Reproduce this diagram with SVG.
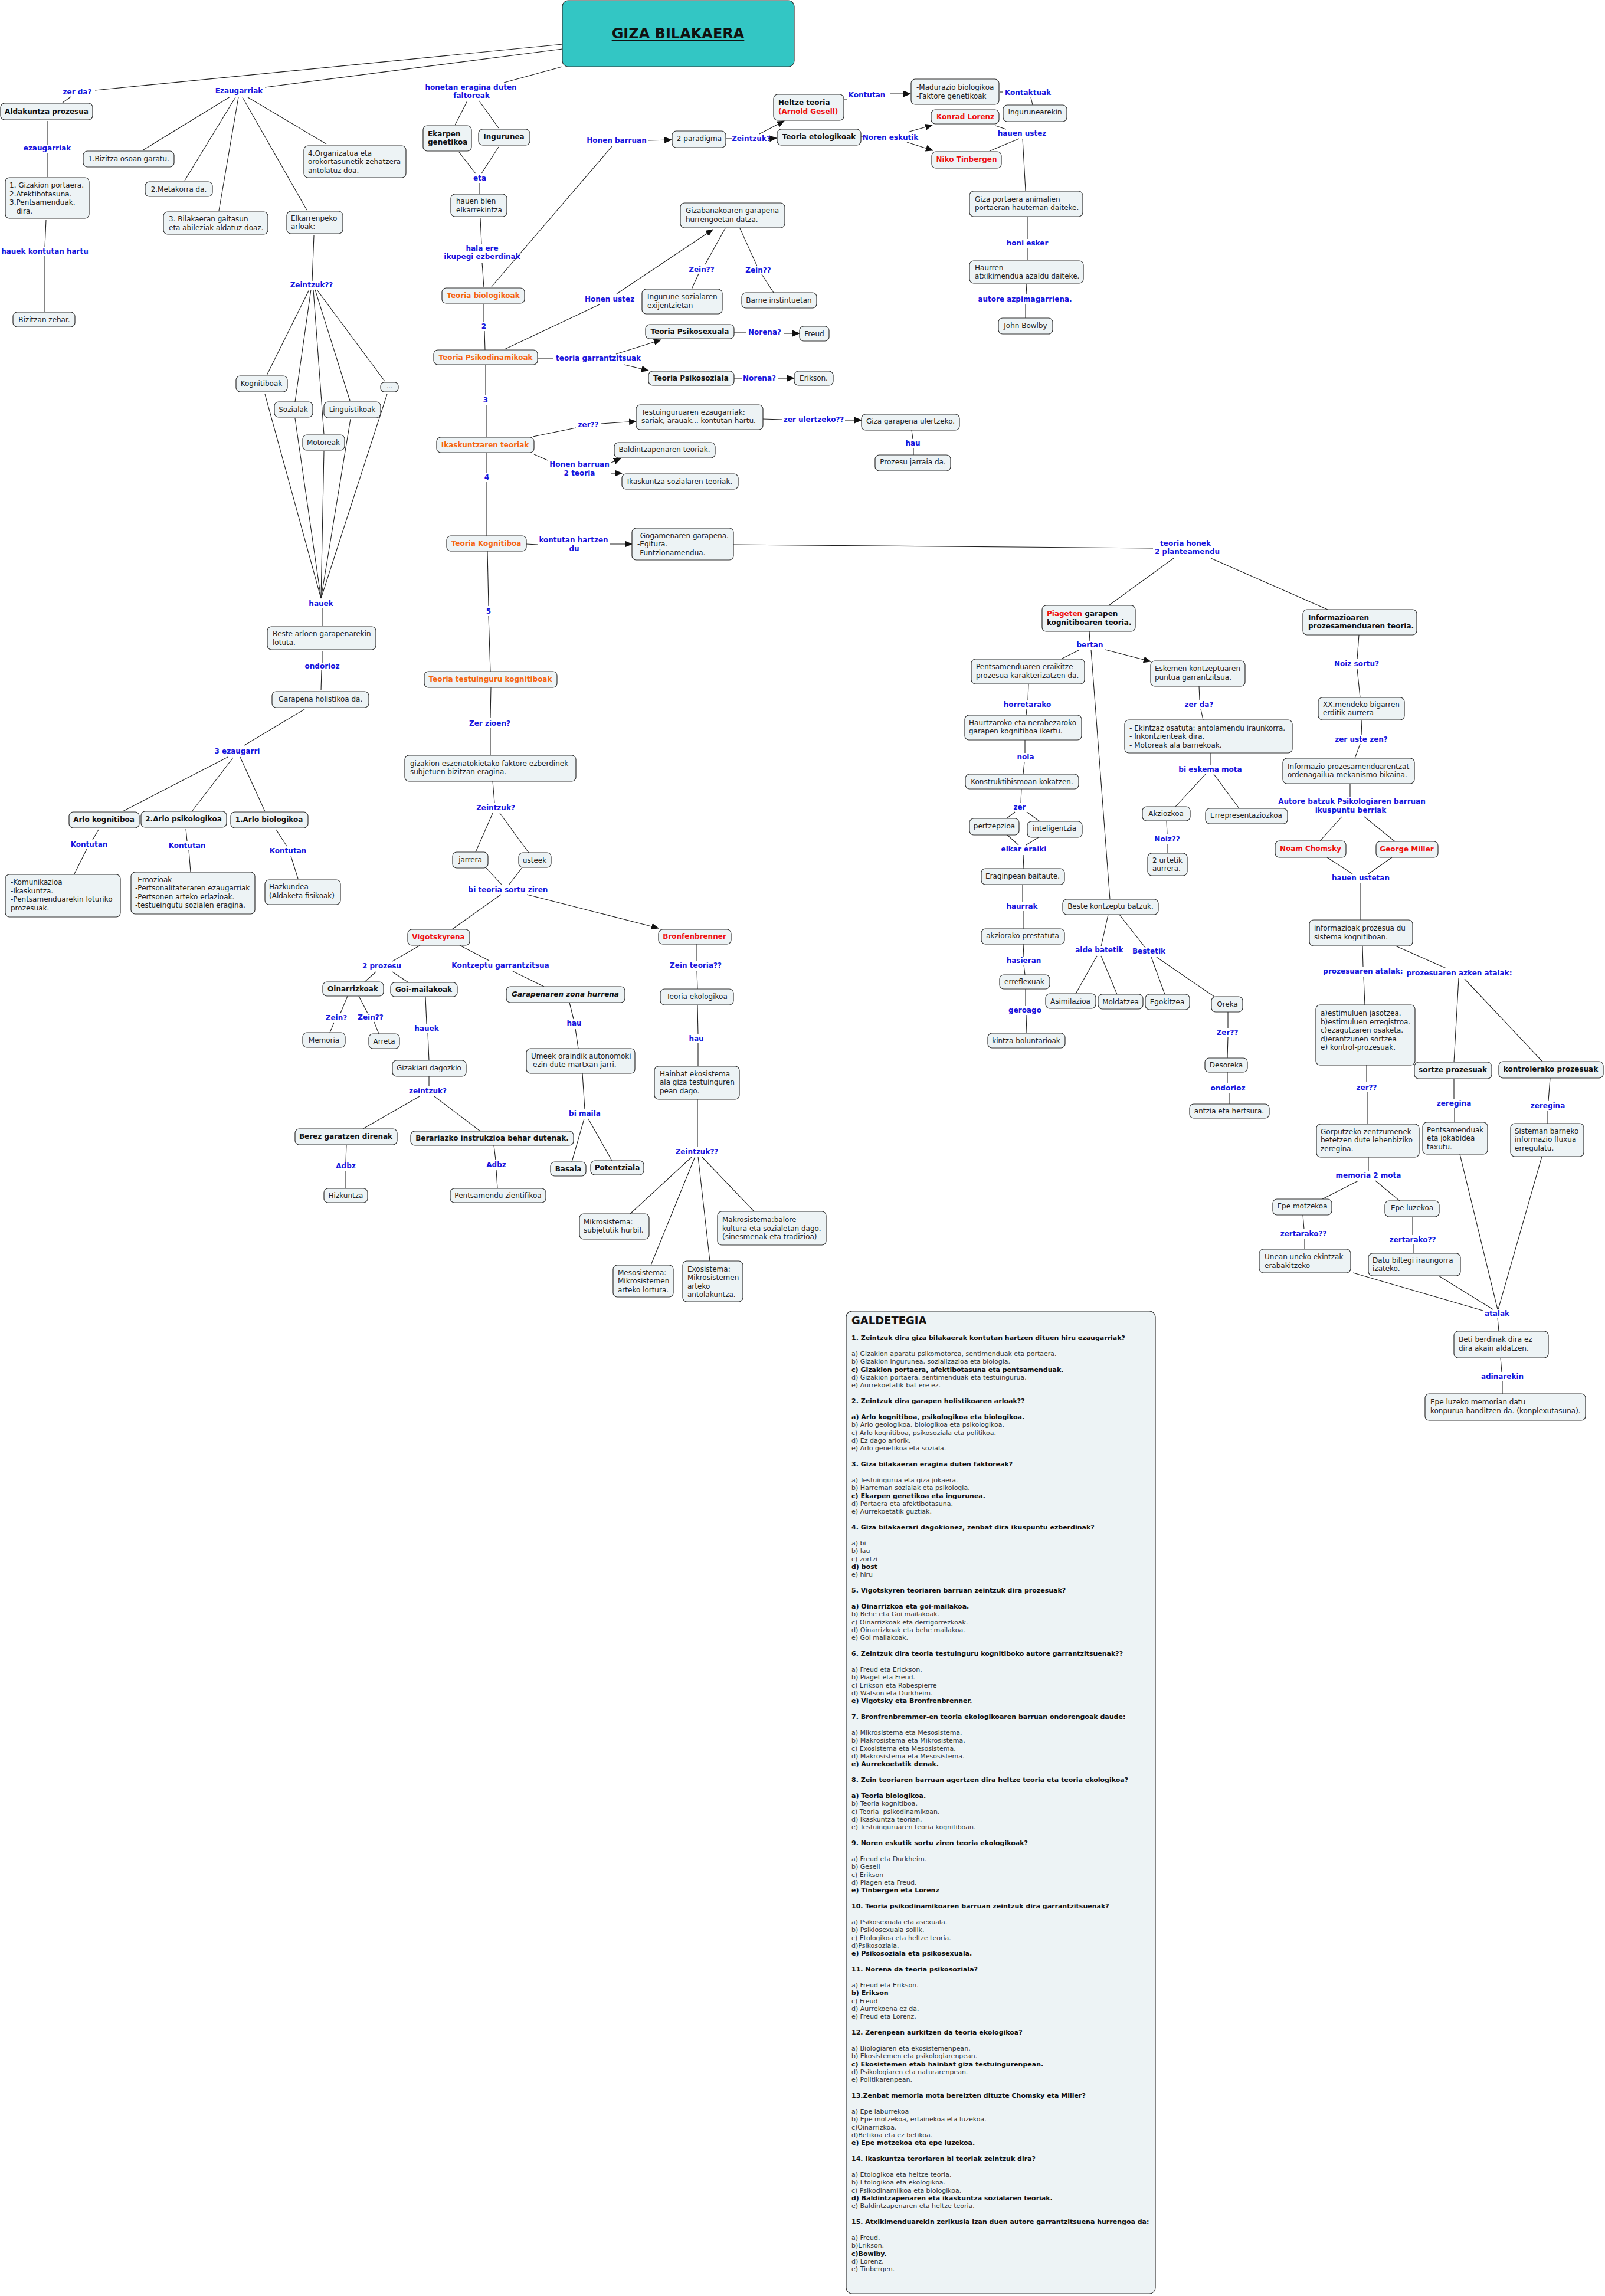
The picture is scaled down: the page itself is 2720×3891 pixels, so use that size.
<svg xmlns="http://www.w3.org/2000/svg" width="2720" height="3891" viewBox="0 0 2720 3891">
<defs>
<marker id="ar" markerUnits="userSpaceOnUse" markerWidth="13" markerHeight="11" refX="12" refY="5.5" orient="auto"><path d="M0,0 L13,5.5 L0,11 z" fill="#111"/></marker>
<style>
rect{fill:#edf3f5;stroke:#333;stroke-width:1.2}
text{font-family:"DejaVu Sans","Liberation Sans",sans-serif;font-size:12px;fill:#222}
.m{text-anchor:middle}
.b{font-weight:bold;fill:#111}
.o{font-weight:bold;fill:#f5650f}
.r{font-weight:bold;fill:#ee1111}
.l{font-weight:bold;fill:#1515dd;text-anchor:middle}
.bi{font-weight:bold;font-style:italic;fill:#111}
#connectors path{stroke:#222;stroke-width:1.1;fill:none}
.q{font-size:11px;fill:#333}
.qb{font-weight:bold;fill:#111}
</style>
</defs>
<rect width="2720" height="3891" style="fill:#fff;stroke:none"/>

<g id="connectors">
<path d="M953,75 L161,153"/><path d="M953,83 L449,148"/><path d="M953,113 L854,140"/>
<path d="M120,164 L106,174"/>
<path d="M80,205 L80,245"/><path d="M80,259 L80,300"/>
<path d="M78,373 L76,419"/><path d="M76,434 L76,528"/>
<path d="M390,164 L243,254"/><path d="M399,165 L313,306"/><path d="M404,165 L371,357"/><path d="M411,165 L520,356"/><path d="M420,165 L553,244"/>
<path d="M532,399 L529,476"/>
<path d="M524,491 L452,636"/><path d="M527,491 L500,681"/><path d="M531,491 L549,736"/><path d="M534,491 L593,679"/><path d="M537,491 L652,646"/>
<path d="M449,668 L544,1014"/><path d="M500,709 L544,1014"/><path d="M549,765 L544,1014"/><path d="M594,710 L544,1014"/><path d="M656,668 L544,1014"/>
<path d="M546,1031 L546,1061"/><path d="M546,1104 L546,1123"/><path d="M545,1136 L544,1170"/>
<path d="M516,1202 L414,1263"/>
<path d="M386,1283 L208,1375"/><path d="M395,1284 L326,1374"/><path d="M407,1283 L449,1375"/>
<path d="M167,1406 L157,1423"/><path d="M147,1439 L126,1481"/>
<path d="M315,1405 L317,1425"/><path d="M320,1441 L323,1478"/>
<path d="M468,1406 L486,1434"/><path d="M493,1451 L505,1489"/>
<path d="M792,171 L771,212"/><path d="M812,171 L845,217"/>
<path d="M778,258 L806,294"/><path d="M845,249 L816,294"/>
<path d="M813,310 L813,328"/>
<path d="M814,370 L816,413"/><path d="M817,445 L820,487"/>
<path d="M833,486 L1038,247"/>
<path d="M1098,238 L1138,237" marker-end="url(#ar)"/>
<path d="M1231,235 L1240,235"/>
<path d="M1303,235 L1316,234" marker-end="url(#ar)"/>
<path d="M1287,227 L1329,205" marker-end="url(#ar)"/>
<path d="M1430,169 L1435,169"/>
<path d="M1508,159 L1543,159" marker-end="url(#ar)"/>
<path d="M1694,156 L1700,156"/><path d="M1747,165 L1750,178"/>
<path d="M1459,232 L1464,232"/>
<path d="M1538,224 L1580,212" marker-end="url(#ar)"/>
<path d="M1537,241 L1581,255" marker-end="url(#ar)"/>
<path d="M1687,213 L1705,219"/><path d="M1677,256 L1727,235"/><path d="M1733,235 L1738,323"/>
<path d="M1741,368 L1741,405"/><path d="M1741,420 L1741,441"/>
<path d="M1740,481 L1739,499"/><path d="M1738,516 L1738,539"/>
<path d="M820,515 L820,545"/><path d="M821,561 L822,593"/>
<path d="M855,592 L1016,516"/>
<path d="M1045,498 L1208,389" marker-end="url(#ar)"/>
<path d="M1229,387 L1195,448"/><path d="M1184,464 L1172,490"/>
<path d="M1254,387 L1283,451"/><path d="M1291,465 L1311,496"/>
<path d="M911,607 L938,607"/>
<path d="M1044,600 L1120,576" marker-end="url(#ar)"/>
<path d="M1058,618 L1099,628" marker-end="url(#ar)"/>
<path d="M1244,563 L1265,563"/><path d="M1328,565 L1355,565" marker-end="url(#ar)"/>
<path d="M1244,641 L1257,641"/><path d="M1318,641 L1346,641" marker-end="url(#ar)"/>
<path d="M823,619 L823,670"/><path d="M824,686 L824,741"/>
<path d="M903,740 L976,725"/>
<path d="M1019,718 L1078,714" marker-end="url(#ar)"/>
<path d="M1293,710 L1325,711"/><path d="M1432,712 L1460,712" marker-end="url(#ar)"/>
<path d="M1545,729 L1547,744"/><path d="M1548,759 L1548,771"/>
<path d="M905,770 L928,780"/>
<path d="M1036,784 L1052,777" marker-end="url(#ar)"/>
<path d="M1036,802 L1054,802" marker-end="url(#ar)"/>
<path d="M824,767 L824,801"/><path d="M825,817 L825,908"/>
<path d="M892,922 L911,923"/><path d="M1034,922 L1071,922" marker-end="url(#ar)"/>
<path d="M1243,923 L1954,929"/>
<path d="M1989,946 L1879,1026"/><path d="M2052,946 L2250,1033"/>
<path d="M1846,1070 L1847,1086"/>
<path d="M1828,1102 L1798,1117"/>
<path d="M1873,1101 L1950,1121" marker-end="url(#ar)"/>
<path d="M1849,1101 L1881,1524"/>
<path d="M1743,1159 L1742,1186"/><path d="M1740,1202 L1739,1212"/>
<path d="M1737,1254 L1737,1276"/><path d="M1736,1291 L1734,1312"/>
<path d="M1731,1337 L1730,1360"/><path d="M1720,1376 L1706,1387"/><path d="M1740,1376 L1762,1392"/>
<path d="M1707,1415 L1726,1432"/><path d="M1760,1419 L1739,1432"/><path d="M1735,1449 L1734,1472"/>
<path d="M1733,1499 L1733,1528"/><path d="M1734,1544 L1734,1574"/>
<path d="M1734,1600 L1735,1621"/><path d="M1735,1635 L1737,1652"/>
<path d="M1738,1676 L1738,1705"/><path d="M1739,1720 L1740,1751"/>
<path d="M2032,1163 L2033,1186"/><path d="M2035,1202 L2039,1220"/>
<path d="M2051,1276 L2051,1296"/><path d="M2043,1312 L1992,1367"/><path d="M2057,1312 L2100,1370"/>
<path d="M1977,1391 L1978,1414"/><path d="M1978,1431 L1978,1446"/>
<path d="M2303,1076 L2300,1117"/><path d="M2300,1134 L2305,1182"/>
<path d="M2307,1220 L2308,1246"/><path d="M2305,1261 L2296,1285"/>
<path d="M2288,1328 L2288,1350"/><path d="M2274,1384 L2237,1425"/><path d="M2312,1384 L2364,1426"/>
<path d="M2249,1453 L2292,1481"/><path d="M2359,1453 L2319,1481"/>
<path d="M2306,1497 L2306,1559"/>
<path d="M2309,1603 L2310,1638"/><path d="M2311,1656 L2313,1703"/>
<path d="M2365,1603 L2451,1641"/>
<path d="M2472,1658 L2464,1800"/><path d="M2482,1659 L2614,1799"/>
<path d="M2316,1805 L2316,1834"/><path d="M2317,1851 L2317,1905"/>
<path d="M2464,1828 L2464,1862"/><path d="M2465,1878 L2465,1902"/>
<path d="M2627,1827 L2624,1866"/><path d="M2623,1882 L2623,1904"/>
<path d="M2319,1961 L2319,1984"/><path d="M2302,2001 L2241,2032"/><path d="M2331,2001 L2372,2035"/>
<path d="M2208,2059 L2210,2083"/><path d="M2211,2099 L2211,2117"/>
<path d="M2394,2062 L2394,2093"/><path d="M2395,2109 L2395,2124"/>
<path d="M2293,2157 L2513,2221"/><path d="M2438,2162 L2530,2219"/><path d="M2474,1956 L2538,2219"/><path d="M2613,1960 L2539,2219"/>
<path d="M2538,2233 L2540,2256"/><path d="M2543,2301 L2545,2325"/><path d="M2546,2341 L2546,2362"/>
<path d="M1878,1550 L1866,1604"/><path d="M1897,1550 L1941,1606"/>
<path d="M1859,1620 L1823,1684"/><path d="M1866,1620 L1893,1685"/>
<path d="M1951,1622 L1974,1685"/><path d="M1960,1622 L2058,1689"/>
<path d="M2081,1715 L2081,1742"/><path d="M2081,1758 L2080,1793"/>
<path d="M2080,1817 L2080,1836"/><path d="M2083,1852 L2083,1871"/>
<path d="M826,934 L828,1027"/><path d="M828,1044 L831,1138"/>
<path d="M832,1165 L831,1217"/><path d="M831,1234 L831,1280"/>
<path d="M835,1324 L838,1360"/><path d="M835,1378 L806,1444"/><path d="M847,1378 L896,1445"/>
<path d="M824,1471 L851,1500"/><path d="M885,1470 L862,1500"/>
<path d="M849,1516 L766,1575"/>
<path d="M893,1516 L1116,1573" marker-end="url(#ar)"/>
<path d="M712,1602 L665,1629"/><path d="M637,1647 L618,1664"/><path d="M665,1647 L692,1665"/>
<path d="M779,1602 L829,1628"/><path d="M869,1646 L922,1672"/>
<path d="M589,1688 L577,1717"/><path d="M566,1733 L559,1750"/>
<path d="M608,1688 L623,1717"/><path d="M634,1732 L642,1752"/>
<path d="M721,1689 L723,1735"/><path d="M725,1751 L727,1797"/>
<path d="M727,1824 L727,1841"/><path d="M711,1858 L615,1913"/><path d="M736,1858 L814,1917"/>
<path d="M587,1940 L586,1969"/><path d="M586,1984 L586,2014"/>
<path d="M837,1941 L840,1966"/><path d="M841,1983 L843,2014"/>
<path d="M965,1699 L972,1727"/><path d="M975,1743 L980,1777"/>
<path d="M987,1819 L991,1880"/><path d="M990,1896 L969,1969"/><path d="M997,1896 L1037,1967"/>
<path d="M1180,1600 L1180,1629"/><path d="M1181,1645 L1182,1676"/>
<path d="M1182,1703 L1183,1753"/><path d="M1183,1768 L1183,1807"/>
<path d="M1182,1863 L1182,1944"/>
<path d="M1173,1960 L1068,2057"/><path d="M1178,1960 L1103,2144"/><path d="M1183,1960 L1203,2137"/><path d="M1189,1960 L1278,2053"/>
</g>

<g id="labels">
<text class="l" x="131" y="160">zer da?</text>
<text class="l" x="405" y="158">Ezaugarriak</text>
<text class="l" x="798" y="152">honetan eragina duten</text>
<text class="l" x="799" y="166">faltoreak</text>
<text class="l" x="80" y="255">ezaugarriak</text>
<text class="l" x="76" y="430">hauek kontutan hartu</text>
<text class="l" x="528" y="487">Zeintzuk??</text>
<text class="l" x="544" y="1027">hauek</text>
<text class="l" x="546" y="1133">ondorioz</text>
<text class="l" x="402" y="1277">3 ezaugarri</text>
<text class="l" x="151" y="1435">Kontutan</text>
<text class="l" x="317" y="1437">Kontutan</text>
<text class="l" x="488" y="1446">Kontutan</text>
<text class="l" x="813" y="306">eta</text>
<text class="l" x="817" y="425">hala ere</text>
<text class="l" x="817" y="439">ikupegi ezberdinak</text>
<text class="l" x="820" y="557">2</text>
<text class="l" x="823" y="682">3</text>
<text class="l" x="825" y="813">4</text>
<text class="l" x="828" y="1040">5</text>
<text class="l" x="1045" y="242">Honen barruan</text>
<text class="l" x="1273" y="239">Zeintzuk?</text>
<text class="l" x="1469" y="165">Kontutan</text>
<text class="l" x="1742" y="161">Kontaktuak</text>
<text class="l" x="1509" y="237">Noren eskutik</text>
<text class="l" x="1732" y="230">hauen ustez</text>
<text class="l" x="1741" y="416">honi esker</text>
<text class="l" x="1737" y="511">autore azpimagarriena.</text>
<text class="l" x="1033" y="511">Honen ustez</text>
<text class="l" x="1189" y="461">Zein??</text>
<text class="l" x="1285" y="462">Zein??</text>
<text class="l" x="1014" y="611">teoria garrantzitsuak</text>
<text class="l" x="1296" y="567">Norena?</text>
<text class="l" x="1287" y="645">Norena?</text>
<text class="l" x="997" y="724">zer??</text>
<text class="l" x="1379" y="715">zer ulertzeko??</text>
<text class="l" x="1547" y="755">hau</text>
<text class="l" x="982" y="791">Honen barruan</text>
<text class="l" x="982" y="806">2 teoria</text>
<text class="l" x="972" y="919">kontutan hartzen</text>
<text class="l" x="973" y="934">du</text>
<text class="l" x="2009" y="925">teoria honek</text>
<text class="l" x="2012" y="939">2 planteamendu</text>
<text class="l" x="1847" y="1097">bertan</text>
<text class="l" x="1741" y="1198">horretarako</text>
<text class="l" x="1738" y="1287">nola</text>
<text class="l" x="1728" y="1372">zer</text>
<text class="l" x="1735" y="1443">elkar eraiki</text>
<text class="l" x="1732" y="1540">haurrak</text>
<text class="l" x="1735" y="1632">hasieran</text>
<text class="l" x="1737" y="1716">geroago</text>
<text class="l" x="2032" y="1198">zer da?</text>
<text class="l" x="2051" y="1308">bi eskema mota</text>
<text class="l" x="1978" y="1426">Noiz??</text>
<text class="l" x="2299" y="1129">Noiz sortu?</text>
<text class="l" x="2307" y="1257">zer uste zen?</text>
<text class="l" x="2291" y="1362">Autore batzuk Psikologiaren barruan</text>
<text class="l" x="2289" y="1377">ikuspuntu berriak</text>
<text class="l" x="2306" y="1492">hauen ustetan</text>
<text class="l" x="2310" y="1650">prozesuaren atalak:</text>
<text class="l" x="2473" y="1653">prozesuaren azken atalak:</text>
<text class="l" x="2316" y="1847">zer??</text>
<text class="l" x="2464" y="1874">zeregina</text>
<text class="l" x="2623" y="1878">zeregina</text>
<text class="l" x="2319" y="1996">memoria 2 mota</text>
<text class="l" x="2209" y="2095">zertarako??</text>
<text class="l" x="2394" y="2105">zertarako??</text>
<text class="l" x="2537" y="2230">atalak</text>
<text class="l" x="2546" y="2337">adinarekin</text>
<text class="l" x="830" y="1230">Zer zioen?</text>
<text class="l" x="840" y="1373">Zeintzuk?</text>
<text class="l" x="861" y="1512">bi teoria sortu ziren</text>
<text class="l" x="647" y="1641">2 prozesu</text>
<text class="l" x="848" y="1640">Kontzeptu garrantzitsua</text>
<text class="l" x="570" y="1729">Zein?</text>
<text class="l" x="628" y="1728">Zein??</text>
<text class="l" x="723" y="1747">hauek</text>
<text class="l" x="725" y="1853">zeintzuk?</text>
<text class="l" x="586" y="1980">Adbz</text>
<text class="l" x="841" y="1978">Adbz</text>
<text class="l" x="973" y="1738">hau</text>
<text class="l" x="991" y="1891">bi maila</text>
<text class="l" x="1179" y="1640">Zein teoria??</text>
<text class="l" x="1180" y="1764">hau</text>
<text class="l" x="1181" y="1956">Zeintzuk??</text>
<text class="l" x="1863" y="1614">alde batetik</text>
<text class="l" x="1947" y="1616">Bestetik</text>
<text class="l" x="2080" y="1754">Zer??</text>
<text class="l" x="2081" y="1848">ondorioz</text>
</g>

<g id="title"><rect x="953" y="1" width="393" height="112" rx="10" style="fill:#33c6c4"/><text class="b m" x="1149" y="65" style="font-size:24px;text-decoration:underline">GIZA BILAKAERA</text></g>

<g id="n-aldakuntza"><rect x="1" y="175" width="156" height="28" rx="7"/><text class="b m" x="79" y="193">Aldakuntza prozesua</text></g>
<g id="n-ezauglist"><rect x="9" y="301" width="142" height="69" rx="7"/><text x="16" y="318">1. Gizakion portaera.<tspan x="16" y="333">2.Afektibotasuna.</tspan><tspan x="16" y="347">3.Pentsamenduak.</tspan><tspan x="28" y="362">dira.</tspan></text></g>
<g id="n-bizitzan"><rect x="22" y="529" width="105" height="25" rx="7"/><text class="m" x="75" y="546">Bizitzan zehar.</text></g>
<g id="n-bizitza"><rect x="141" y="256" width="154" height="27" rx="7"/><text class="m" x="218" y="273">1.Bizitza osoan garatu.</text></g>
<g id="n-metakorra"><rect x="246" y="308" width="114" height="25" rx="7"/><text class="m" x="303" y="325">2.Metakorra da.</text></g>
<g id="n-bilakaeran"><rect x="277" y="359" width="177" height="38" rx="7"/><text x="286" y="375">3. Bilakaeran gaitasun<tspan x="286" y="390">eta abileziak aldatuz doaz.</tspan></text></g>
<g id="n-elkarrenpeko"><rect x="486" y="358" width="95" height="38" rx="7"/><text x="493" y="374">Elkarrenpeko<tspan x="493" y="388">arloak:</tspan></text></g>
<g id="n-organizatua"><rect x="515" y="247" width="173" height="54" rx="7"/><text x="522" y="264">4.Organizatua eta<tspan x="522" y="278">orokortasunetik zehatzera</tspan><tspan x="522" y="293">antolatuz doa.</tspan></text></g>
<g id="n-kognitiboak"><rect x="400" y="637" width="87" height="27" rx="7"/><text class="m" x="443" y="654">Kognitiboak</text></g>
<g id="n-sozialak"><rect x="465" y="681" width="65" height="26" rx="7"/><text class="m" x="497" y="698">Sozialak</text></g>
<g id="n-motoreak"><rect x="513" y="737" width="71" height="26" rx="7"/><text class="m" x="548" y="754">Motoreak</text></g>
<g id="n-linguistikoak"><rect x="549" y="681" width="96" height="27" rx="7"/><text class="m" x="597" y="698">Linguistikoak</text></g>
<g id="n-dots"><rect x="645" y="648" width="30" height="16" rx="6"/><text class="m" x="660" y="658" style="font-size:10px">...</text></g>
<g id="n-beste-arloen"><rect x="453" y="1062" width="184" height="39" rx="7"/><text x="462" y="1078">Beste arloen garapenarekin<tspan x="462" y="1093">lotuta.</tspan></text></g>
<g id="n-holistikoa"><rect x="461" y="1172" width="164" height="27" rx="7"/><text class="m" x="543" y="1189">Garapena holistikoa da.</text></g>
<g id="n-arlo-kog"><rect x="117" y="1376" width="119" height="27" rx="7"/><text class="b m" x="176" y="1393">Arlo kognitiboa</text></g>
<g id="n-arlo-psi"><rect x="239" y="1375" width="145" height="27" rx="7"/><text class="b m" x="311" y="1392">2.Arlo psikologikoa</text></g>
<g id="n-arlo-bio"><rect x="391" y="1376" width="131" height="27" rx="7"/><text class="b m" x="456" y="1393">1.Arlo biologikoa</text></g>
<g id="n-komunikazioa"><rect x="9" y="1482" width="195" height="72" rx="7"/><text x="18" y="1499">-Komunikazioa<tspan x="18" y="1514">-Ikaskuntza.</tspan><tspan x="18" y="1528">-Pentsamenduarekin loturiko</tspan><tspan x="18" y="1543">prozesuak.</tspan></text></g>
<g id="n-emozioak"><rect x="222" y="1478" width="210" height="71" rx="7"/><text x="229" y="1495">-Emozioak<tspan x="229" y="1509">-Pertsonalitateraren ezaugarriak</tspan><tspan x="229" y="1524">-Pertsonen arteko erlazioak.</tspan><tspan x="229" y="1538">-testueingutu sozialen eragina.</tspan></text></g>
<g id="n-hazkundea"><rect x="449" y="1491" width="128" height="42" rx="7"/><text x="456" y="1507">Hazkundea<tspan x="456" y="1522">(Aldaketa fisikoak)</tspan></text></g>

<g id="n-ekarpen"><rect x="717" y="213" width="82" height="43" rx="7"/><text class="b" x="725" y="231">Ekarpen<tspan x="725" y="245">genetikoa</tspan></text></g>
<g id="n-ingurunea"><rect x="811" y="219" width="87" height="27" rx="7"/><text class="b m" x="854" y="236">Ingurunea</text></g>
<g id="n-hauen-bien"><rect x="764" y="329" width="95" height="38" rx="7"/><text x="773" y="345">hauen bien<tspan x="773" y="360">elkarrekintza</tspan></text></g>
<g id="n-t-bio"><rect x="749" y="488" width="140" height="26" rx="7"/><text class="o m" x="819" y="505">Teoria biologikoak</text></g>
<g id="n-t-psikodin"><rect x="735" y="593" width="176" height="25" rx="7"/><text class="o m" x="823" y="610">Teoria Psikodinamikoak</text></g>
<g id="n-ikaskuntzaren"><rect x="740" y="741" width="165" height="26" rx="7"/><text class="o m" x="822" y="758">Ikaskuntzaren teoriak</text></g>
<g id="n-t-kog"><rect x="757" y="908" width="135" height="26" rx="7"/><text class="o m" x="824" y="925">Teoria Kognitiboa</text></g>
<g id="n-t-testu"><rect x="719" y="1138" width="225" height="27" rx="7"/><text class="o m" x="831" y="1155">Teoria testuinguru kognitiboak</text></g>
<g id="n-gizakion-esz"><rect x="686" y="1280" width="290" height="44" rx="7"/><text x="695" y="1298">gizakion eszenatokietako faktore ezberdinek<tspan x="695" y="1312">subjetuen bizitzan eragina.</tspan></text></g>
<g id="n-jarrera"><rect x="767" y="1444" width="60" height="27" rx="7"/><text class="m" x="797" y="1461">jarrera</text></g>
<g id="n-usteek"><rect x="879" y="1445" width="55" height="25" rx="7"/><text class="m" x="906" y="1462">usteek</text></g>
<g id="n-vigotsky"><rect x="691" y="1575" width="105" height="27" rx="7"/><text class="r m" x="743" y="1592">Vigotskyrena</text></g>
<g id="n-bronfen"><rect x="1116" y="1575" width="123" height="25" rx="7"/><text class="r m" x="1177" y="1591">Bronfenbrenner</text></g>
<g id="n-oinarrizkoak"><rect x="547" y="1664" width="103" height="24" rx="7"/><text class="b m" x="598" y="1680">Oinarrizkoak</text></g>
<g id="n-goimailakoak"><rect x="662" y="1665" width="113" height="24" rx="7"/><text class="b m" x="718" y="1681">Goi-mailakoak</text></g>
<g id="n-garapenaren"><rect x="858" y="1672" width="201" height="27" rx="7"/><text class="bi m" x="958" y="1689">Garapenaren zona hurrena</text></g>
<g id="n-memoria"><rect x="513" y="1750" width="72" height="25" rx="7"/><text class="m" x="549" y="1767">Memoria</text></g>
<g id="n-arreta"><rect x="625" y="1752" width="52" height="25" rx="7"/><text class="m" x="651" y="1769">Arreta</text></g>
<g id="n-gizakiari"><rect x="665" y="1797" width="125" height="27" rx="7"/><text class="m" x="727" y="1814">Gizakiari dagozkio</text></g>
<g id="n-umeek"><rect x="892" y="1777" width="184" height="42" rx="7"/><text x="900" y="1794">Umeek oraindik autonomoki<tspan x="903" y="1808">ezin dute martxan jarri.</tspan></text></g>
<g id="n-berez"><rect x="500" y="1913" width="173" height="27" rx="7"/><text class="b m" x="586" y="1930">Berez garatzen direnak</text></g>
<g id="n-berariazko"><rect x="696" y="1917" width="276" height="24" rx="7"/><text class="b m" x="834" y="1933">Berariazko instrukzioa behar dutenak.</text></g>
<g id="n-basala"><rect x="933" y="1969" width="60" height="24" rx="7"/><text class="b m" x="963" y="1985">Basala</text></g>
<g id="n-potentziala"><rect x="1001" y="1967" width="90" height="24" rx="7"/><text class="b m" x="1046" y="1983">Potentziala</text></g>
<g id="n-hizkuntza"><rect x="549" y="2014" width="74" height="24" rx="7"/><text class="m" x="586" y="2030">Hizkuntza</text></g>
<g id="n-pentsamendu-z"><rect x="763" y="2014" width="162" height="24" rx="7"/><text class="m" x="844" y="2030">Pentsamendu zientifikoa</text></g>
<g id="n-teoria-ekol"><rect x="1119" y="1676" width="124" height="27" rx="7"/><text class="m" x="1181" y="1693">Teoria ekologikoa</text></g>
<g id="n-hainbat"><rect x="1109" y="1807" width="144" height="56" rx="7"/><text x="1118" y="1824">Hainbat ekosistema<tspan x="1118" y="1838">ala giza testuinguren</tspan><tspan x="1118" y="1853">pean dago.</tspan></text></g>
<g id="n-mikro"><rect x="982" y="2057" width="118" height="43" rx="7"/><text x="989" y="2075">Mikrosistema:<tspan x="989" y="2089">subjetutik hurbil.</tspan></text></g>
<g id="n-meso"><rect x="1039" y="2144" width="102" height="54" rx="7"/><text x="1047" y="2161">Mesosistema:<tspan x="1047" y="2175">Mikrosistemen</tspan><tspan x="1047" y="2190">arteko lortura.</tspan></text></g>
<g id="n-exo"><rect x="1157" y="2137" width="102" height="69" rx="7"/><text x="1165" y="2155">Exosistema:<tspan x="1165" y="2169">Mikrosistemen</tspan><tspan x="1165" y="2184">arteko</tspan><tspan x="1165" y="2198">antolakuntza.</tspan></text></g>
<g id="n-makro"><rect x="1216" y="2053" width="184" height="57" rx="7"/><text x="1224" y="2071">Makrosistema:balore<tspan x="1224" y="2086">kultura eta sozialetan dago.</tspan><tspan x="1224" y="2100">(sinesmenak eta tradizioa)</tspan></text></g>

<g id="n-paradigma"><rect x="1139" y="222" width="91" height="28" rx="7"/><text class="m" x="1185" y="239">2 paradigma</text></g>
<g id="n-heltze"><rect x="1311" y="160" width="119" height="44" rx="7"/><text class="b" x="1319" y="178">Heltze teoria</text><text class="r" x="1319" y="193">(Arnold Gesell)</text></g>
<g id="n-etologikoak"><rect x="1317" y="219" width="142" height="27" rx="7"/><text class="b m" x="1388" y="236">Teoria etologikoak</text></g>
<g id="n-madurazio"><rect x="1544" y="134" width="149" height="43" rx="7"/><text x="1553" y="152">-Madurazio biologikoa<tspan x="1553" y="167">-Faktore genetikoak</tspan></text></g>
<g id="n-ingurunearekin"><rect x="1700" y="178" width="108" height="28" rx="7"/><text class="m" x="1754" y="194">Ingurunearekin</text></g>
<g id="n-konrad"><rect x="1578" y="186" width="115" height="24" rx="7"/><text class="r m" x="1636" y="202">Konrad Lorenz</text></g>
<g id="n-niko"><rect x="1579" y="257" width="118" height="28" rx="7"/><text class="r m" x="1638" y="274">Niko Tinbergen</text></g>
<g id="n-giza-portaera"><rect x="1643" y="324" width="192" height="43" rx="7"/><text x="1652" y="342">Giza portaera animalien<tspan x="1652" y="356">portaeran hauteman daiteke.</tspan></text></g>
<g id="n-haurren"><rect x="1643" y="442" width="193" height="38" rx="7"/><text x="1652" y="458">Haurren<tspan x="1652" y="472">atxikimendua azaldu daiteke.</tspan></text></g>
<g id="n-bowlby"><rect x="1692" y="539" width="92" height="27" rx="7"/><text class="m" x="1738" y="556">John Bowlby</text></g>
<g id="n-gizabanakoaren"><rect x="1153" y="344" width="177" height="42" rx="7"/><text x="1162" y="361">Gizabanakoaren garapena<tspan x="1162" y="376">hurrengoetan datza.</tspan></text></g>
<g id="n-ingurune-soz"><rect x="1088" y="490" width="136" height="42" rx="7"/><text x="1097" y="507">Ingurune sozialaren<tspan x="1097" y="522">exijentzietan</tspan></text></g>
<g id="n-barne"><rect x="1257" y="496" width="127" height="26" rx="7"/><text class="m" x="1320" y="513">Barne instintuetan</text></g>
<g id="n-psikosexuala"><rect x="1094" y="550" width="150" height="24" rx="7"/><text class="b m" x="1169" y="566">Teoria Psikosexuala</text></g>
<g id="n-freud"><rect x="1355" y="553" width="50" height="25" rx="7"/><text class="m" x="1380" y="570">Freud</text></g>
<g id="n-psikosoziala"><rect x="1099" y="629" width="145" height="24" rx="7"/><text class="b m" x="1171" y="645">Teoria Psikosoziala</text></g>
<g id="n-erikson"><rect x="1346" y="629" width="66" height="24" rx="7"/><text class="m" x="1379" y="645">Erikson.</text></g>
<g id="n-testuinguruaren"><rect x="1078" y="686" width="215" height="42" rx="7"/><text x="1087" y="703">Testuinguruaren ezaugarriak:<tspan x="1087" y="717">sariak, arauak... kontutan hartu.</tspan></text></g>
<g id="n-giza-garapena"><rect x="1460" y="702" width="166" height="27" rx="7"/><text class="m" x="1543" y="718">Giza garapena ulertzeko.</text></g>
<g id="n-prozesu-jarraia"><rect x="1483" y="771" width="128" height="27" rx="7"/><text class="m" x="1547" y="787">Prozesu jarraia da.</text></g>
<g id="n-baldintza"><rect x="1041" y="750" width="171" height="26" rx="7"/><text class="m" x="1126" y="766">Baldintzapenaren teoriak.</text></g>
<g id="n-ikask-soz"><rect x="1054" y="803" width="197" height="26" rx="7"/><text class="m" x="1152" y="820">Ikaskuntza sozialaren teoriak.</text></g>
<g id="n-gogamen"><rect x="1071" y="895" width="172" height="54" rx="7"/><text x="1080" y="912">-Gogamenaren garapena.<tspan x="1080" y="926">-Egitura.</tspan><tspan x="1080" y="941">-Funtzionamendua.</tspan></text></g>

<g id="n-piaget"><rect x="1766" y="1026" width="158" height="44" rx="7"/><text class="b" x="1774" y="1044"><tspan style="fill:#ee1111">Piageten</tspan> garapen<tspan x="1774" y="1059">kognitiboaren teoria.</tspan></text></g>
<g id="n-informazioaren"><rect x="2208" y="1033" width="193" height="43" rx="7"/><text class="b" x="2217" y="1051">Informazioaren<tspan x="2217" y="1065">prozesamenduaren teoria.</tspan></text></g>
<g id="n-pentsamenduaren"><rect x="1646" y="1117" width="192" height="42" rx="7"/><text x="1654" y="1134">Pentsamenduaren eraikitze<tspan x="1654" y="1149">prozesua karakterizatzen da.</tspan></text></g>
<g id="n-haurtzaroko"><rect x="1635" y="1212" width="198" height="42" rx="7"/><text x="1642" y="1229">Haurtzaroko eta nerabezaroko<tspan x="1642" y="1243">garapen kognitiboa ikertu.</tspan></text></g>
<g id="n-konstrukti"><rect x="1636" y="1312" width="192" height="25" rx="7"/><text class="m" x="1732" y="1329">Konstruktibismoan kokatzen.</text></g>
<g id="n-pertzepzioa"><rect x="1643" y="1387" width="84" height="28" rx="7"/><text class="m" x="1685" y="1404">pertzepzioa</text></g>
<g id="n-inteligentzia"><rect x="1741" y="1392" width="93" height="27" rx="7"/><text class="m" x="1787" y="1408">inteligentzia</text></g>
<g id="n-eraginpean"><rect x="1663" y="1472" width="141" height="27" rx="7"/><text class="m" x="1733" y="1489">Eraginpean baitaute.</text></g>
<g id="n-akziorako"><rect x="1663" y="1574" width="141" height="26" rx="7"/><text class="m" x="1733" y="1590">akziorako prestatuta</text></g>
<g id="n-erreflexuak"><rect x="1694" y="1652" width="85" height="24" rx="7"/><text class="m" x="1736" y="1668">erreflexuak</text></g>
<g id="n-kintza"><rect x="1674" y="1751" width="131" height="25" rx="7"/><text class="m" x="1739" y="1768">kintza boluntarioak</text></g>
<g id="n-eskemen"><rect x="1950" y="1120" width="160" height="43" rx="7"/><text x="1957" y="1137">Eskemen kontzeptuaren<tspan x="1957" y="1152">puntua garrantzitsua.</tspan></text></g>
<g id="n-ekintzaz"><rect x="1906" y="1220" width="284" height="56" rx="7"/><text x="1914" y="1238">- Ekintzaz osatuta: antolamendu iraunkorra.<tspan x="1914" y="1252">- Inkontzienteak dira.</tspan><tspan x="1914" y="1267">- Motoreak ala barnekoak.</tspan></text></g>
<g id="n-akziozkoa"><rect x="1936" y="1367" width="81" height="24" rx="7"/><text class="m" x="1976" y="1383">Akziozkoa</text></g>
<g id="n-errepres"><rect x="2043" y="1370" width="139" height="26" rx="7"/><text class="m" x="2112" y="1386">Errepresentaziozkoa</text></g>
<g id="n-urtetik"><rect x="1945" y="1446" width="67" height="38" rx="7"/><text x="1953" y="1462">2 urtetik<tspan x="1953" y="1476">aurrera.</tspan></text></g>
<g id="n-xxmendeko"><rect x="2234" y="1182" width="146" height="38" rx="7"/><text x="2242" y="1198">XX.mendeko bigarren<tspan x="2242" y="1212">erditik aurrera</tspan></text></g>
<g id="n-infor-proz"><rect x="2174" y="1285" width="223" height="43" rx="7"/><text x="2182" y="1303">Informazio prozesamenduarentzat<tspan x="2182" y="1317">ordenagailua mekanismo bikaina.</tspan></text></g>
<g id="n-chomsky"><rect x="2161" y="1425" width="120" height="28" rx="7"/><text class="r m" x="2221" y="1442">Noam Chomsky</text></g>
<g id="n-miller"><rect x="2332" y="1426" width="105" height="27" rx="7"/><text class="r m" x="2384" y="1443">George Miller</text></g>
<g id="n-informazioak"><rect x="2219" y="1559" width="175" height="44" rx="7"/><text x="2227" y="1577">informazioak prozesua du<tspan x="2227" y="1592">sistema kognitiboan.</tspan></text></g>
<g id="n-abc"><rect x="2230" y="1703" width="168" height="102" rx="7"/><text x="2238" y="1721">a)estimuluen jasotzea.<tspan x="2238" y="1736">b)estimuluen erregistroa.</tspan><tspan x="2238" y="1750">c)ezagutzaren osaketa.</tspan><tspan x="2238" y="1765">d)erantzunen sortzea</tspan><tspan x="2238" y="1779">e) kontrol-prozesuak.</tspan></text></g>
<g id="n-sortze"><rect x="2397" y="1800" width="131" height="28" rx="7"/><text class="b m" x="2462" y="1817">sortze prozesuak</text></g>
<g id="n-kontrolerako"><rect x="2540" y="1799" width="177" height="28" rx="7"/><text class="b m" x="2628" y="1816">kontrolerako prozesuak</text></g>
<g id="n-gorputzeko"><rect x="2231" y="1905" width="174" height="56" rx="7"/><text x="2238" y="1922">Gorputzeko zentzumenek<tspan x="2238" y="1936">betetzen dute lehenbiziko</tspan><tspan x="2238" y="1951">zeregina.</tspan></text></g>
<g id="n-pentsamenduak"><rect x="2411" y="1902" width="110" height="54" rx="7"/><text x="2418" y="1919">Pentsamenduak<tspan x="2418" y="1933">eta jokabidea</tspan><tspan x="2418" y="1948">taxutu.</tspan></text></g>
<g id="n-sisteman"><rect x="2560" y="1904" width="124" height="56" rx="7"/><text x="2567" y="1921">Sisteman barneko<tspan x="2567" y="1935">informazio fluxua</tspan><tspan x="2567" y="1950">erregulatu.</tspan></text></g>
<g id="n-epe-motz"><rect x="2157" y="2032" width="100" height="27" rx="7"/><text class="m" x="2207" y="2048">Epe motzekoa</text></g>
<g id="n-epe-luze"><rect x="2347" y="2035" width="92" height="27" rx="7"/><text class="m" x="2393" y="2051">Epe luzekoa</text></g>
<g id="n-unean"><rect x="2134" y="2117" width="155" height="40" rx="7"/><text x="2143" y="2134">Unean uneko ekintzak<tspan x="2143" y="2149">erabakitzeko</tspan></text></g>
<g id="n-datu"><rect x="2319" y="2124" width="156" height="38" rx="7"/><text x="2326" y="2140">Datu biltegi iraungorra<tspan x="2326" y="2154">izateko.</tspan></text></g>
<g id="n-beti"><rect x="2464" y="2256" width="160" height="45" rx="7"/><text x="2472" y="2274">Beti berdinak dira ez<tspan x="2472" y="2289">dira akain aldatzen.</tspan></text></g>
<g id="n-epe-luzeko"><rect x="2415" y="2362" width="272" height="45" rx="7"/><text x="2424" y="2380">Epe luzeko memorian datu<tspan x="2424" y="2395">konpurua handitzen da. (konplexutasuna).</tspan></text></g>
<g id="n-beste-kontz"><rect x="1801" y="1524" width="162" height="26" rx="7"/><text class="m" x="1882" y="1540">Beste kontzeptu batzuk.</text></g>
<g id="n-asimilazioa"><rect x="1772" y="1684" width="85" height="25" rx="7"/><text class="m" x="1814" y="1701">Asimilazioa</text></g>
<g id="n-moldatzea"><rect x="1861" y="1685" width="76" height="25" rx="7"/><text class="m" x="1899" y="1702">Moldatzea</text></g>
<g id="n-egokitzea"><rect x="1941" y="1685" width="75" height="26" rx="7"/><text class="m" x="1978" y="1702">Egokitzea</text></g>
<g id="n-oreka"><rect x="2053" y="1689" width="53" height="26" rx="7"/><text class="m" x="2080" y="1706">Oreka</text></g>
<g id="n-desoreka"><rect x="2042" y="1793" width="72" height="24" rx="7"/><text class="m" x="2078" y="1809">Desoreka</text></g>
<g id="n-antzia"><rect x="2016" y="1871" width="135" height="24" rx="7"/><text class="m" x="2083" y="1887">antzia eta hertsura.</text></g>

<g id="n-galdetegia"><rect x="1434" y="2222" width="524" height="1665" rx="10"/>
<text class="b" x="1443" y="2244" style="font-size:18px">GALDETEGIA</text>
<text class="q" x="1443">
<tspan class="qb" x="1443" y="2271">1. Zeintzuk dira giza bilakaerak kontutan hartzen dituen hiru ezaugarriak?</tspan>
<tspan x="1443" y="2298">a) Gizakion aparatu psikomotorea, sentimenduak eta portaera.</tspan>
<tspan x="1443" y="2311">b) Gizakion ingurunea, sozializazioa eta biologia.</tspan>
<tspan class="qb" x="1443" y="2325">c) Gizakion portaera, afektibotasuna eta pentsamenduak.</tspan>
<tspan x="1443" y="2338">d) Gizakion portaera, sentimenduak eta testuingurua.</tspan>
<tspan x="1443" y="2351">e) Aurrekoetatik bat ere ez.</tspan>
<tspan class="qb" x="1443" y="2378">2. Zeintzuk dira garapen holistikoaren arloak??</tspan>
<tspan class="qb" x="1443" y="2405">a) Arlo kognitiboa, psikologikoa eta biologikoa.</tspan>
<tspan x="1443" y="2418">b) Arlo geologikoa, biologikoa eta psikologikoa.</tspan>
<tspan x="1443" y="2432">c) Arlo kognitiboa, psikosoziala eta politikoa.</tspan>
<tspan x="1443" y="2445">d) Ez dago arlorik.</tspan>
<tspan x="1443" y="2458">e) Arlo genetikoa eta soziala.</tspan>
<tspan class="qb" x="1443" y="2485">3. Giza bilakaeran eragina duten faktoreak?</tspan>
<tspan x="1443" y="2512">a) Testuingurua eta giza jokaera.</tspan>
<tspan x="1443" y="2525">b) Harreman sozialak eta psikologia.</tspan>
<tspan class="qb" x="1443" y="2539">c) Ekarpen genetikoa eta ingurunea.</tspan>
<tspan x="1443" y="2552">d) Portaera eta afektibotasuna.</tspan>
<tspan x="1443" y="2565">e) Aurrekoetatik guztiak.</tspan>
<tspan class="qb" x="1443" y="2592">4. Giza bilakaerari dagokionez, zenbat dira ikuspuntu ezberdinak?</tspan>
<tspan x="1443" y="2619">a) bi</tspan>
<tspan x="1443" y="2632">b) lau</tspan>
<tspan x="1443" y="2646">c) zortzi</tspan>
<tspan class="qb" x="1443" y="2659">d) bost</tspan>
<tspan x="1443" y="2672">e) hiru</tspan>
<tspan class="qb" x="1443" y="2699">5. Vigotskyren teoriaren barruan zeintzuk dira prozesuak?</tspan>
<tspan class="qb" x="1443" y="2726">a) Oinarrizkoa eta goi-mailakoa.</tspan>
<tspan x="1443" y="2739">b) Behe eta Goi mailakoak.</tspan>
<tspan x="1443" y="2753">c) Oinarrizkoak eta derrigorrezkoak.</tspan>
<tspan x="1443" y="2766">d) Oinarrizkoak eta behe mailakoa.</tspan>
<tspan x="1443" y="2779">e) Goi mailakoak.</tspan>
<tspan class="qb" x="1443" y="2806">6. Zeintzuk dira teoria testuinguru kognitiboko autore garrantzitsuenak??</tspan>
<tspan x="1443" y="2833">a) Freud eta Erickson.</tspan>
<tspan x="1443" y="2846">b) Piaget eta Freud.</tspan>
<tspan x="1443" y="2860">c) Erikson eta Robespierre</tspan>
<tspan x="1443" y="2873">d) Watson eta Durkheim.</tspan>
<tspan class="qb" x="1443" y="2886">e) Vigotsky eta Bronfrenbrenner.</tspan>
<tspan class="qb" x="1443" y="2913">7. Bronfrenbremmer-en teoria ekologikoaren barruan ondorengoak daude:</tspan>
<tspan x="1443" y="2940">a) Mikrosistema eta Mesosistema.</tspan>
<tspan x="1443" y="2953">b) Makrosistema eta Mikrosistema.</tspan>
<tspan x="1443" y="2967">c) Exosistema eta Mesosistema.</tspan>
<tspan x="1443" y="2980">d) Makrosistema eta Mesosistema.</tspan>
<tspan class="qb" x="1443" y="2993">e) Aurrekoetatik denak.</tspan>
<tspan class="qb" x="1443" y="3020">8. Zein teoriaren barruan agertzen dira heltze teoria eta teoria ekologikoa?</tspan>
<tspan class="qb" x="1443" y="3047">a) Teoria biologikoa.</tspan>
<tspan x="1443" y="3060">b) Teoria kognitiboa.</tspan>
<tspan x="1443" y="3074" xml:space="preserve">c) Teoria  psikodinamikoan.</tspan>
<tspan x="1443" y="3087">d) Ikaskuntza teorian.</tspan>
<tspan x="1443" y="3100">e) Testuinguruaren teoria kognitiboan.</tspan>
<tspan class="qb" x="1443" y="3127">9. Noren eskutik sortu ziren teoria ekologikoak?</tspan>
<tspan x="1443" y="3154">a) Freud eta Durkheim.</tspan>
<tspan x="1443" y="3167">b) Gesell</tspan>
<tspan x="1443" y="3181">c) Erikson</tspan>
<tspan x="1443" y="3194">d) Piagen eta Freud.</tspan>
<tspan class="qb" x="1443" y="3207">e) Tinbergen eta Lorenz</tspan>
<tspan class="qb" x="1443" y="3234">10. Teoria psikodinamikoaren barruan zeintzuk dira garrantzitsuenak?</tspan>
<tspan x="1443" y="3261">a) Psikosexuala eta asexuala.</tspan>
<tspan x="1443" y="3274">b) Psiklosexuala soilik.</tspan>
<tspan x="1443" y="3288">c) Etologikoa eta heltze teoria.</tspan>
<tspan x="1443" y="3301">d)Psikosoziala.</tspan>
<tspan class="qb" x="1443" y="3314">e) Psikosoziala eta psikosexuala.</tspan>
<tspan class="qb" x="1443" y="3341">11. Norena da teoria psikosoziala?</tspan>
<tspan x="1443" y="3368">a) Freud eta Erikson.</tspan>
<tspan class="qb" x="1443" y="3381">b) Erikson</tspan>
<tspan x="1443" y="3395">c) Freud</tspan>
<tspan x="1443" y="3408">d) Aurrekoena ez da.</tspan>
<tspan x="1443" y="3421">e) Freud eta Lorenz.</tspan>
<tspan class="qb" x="1443" y="3448">12. Zerenpean aurkitzen da teoria ekologikoa?</tspan>
<tspan x="1443" y="3475">a) Biologiaren eta ekosistemenpean.</tspan>
<tspan x="1443" y="3488">b) Ekosistemen eta psikologiarenpean.</tspan>
<tspan class="qb" x="1443" y="3502">c) Ekosistemen etab hainbat giza testuingurenpean.</tspan>
<tspan x="1443" y="3515">d) Psikologiaren eta naturarenpean.</tspan>
<tspan x="1443" y="3528">e) Politikarenpean.</tspan>
<tspan class="qb" x="1443" y="3555">13.Zenbat memoria mota bereizten dituzte Chomsky eta Miller?</tspan>
<tspan x="1443" y="3582">a) Epe laburrekoa</tspan>
<tspan x="1443" y="3595">b) Epe motzekoa, ertainekoa eta luzekoa.</tspan>
<tspan x="1443" y="3609">c)Oinarrizkoa.</tspan>
<tspan x="1443" y="3622">d)Betikoa eta ez betikoa.</tspan>
<tspan class="qb" x="1443" y="3635">e) Epe motzekoa eta epe luzekoa.</tspan>
<tspan class="qb" x="1443" y="3662">14. Ikaskuntza teroriaren bi teoriak zeintzuk dira?</tspan>
<tspan x="1443" y="3689">a) Etologikoa eta heltze teoria.</tspan>
<tspan x="1443" y="3702">b) Etologikoa eta ekologikoa.</tspan>
<tspan x="1443" y="3716">c) Psikodinamilkoa eta biologikoa.</tspan>
<tspan class="qb" x="1443" y="3729">d) Baldintzapenaren eta ikaskuntza sozialaren teoriak.</tspan>
<tspan x="1443" y="3742">e) Baldintzapenaren eta heltze teoria.</tspan>
<tspan class="qb" x="1443" y="3769">15. Atxikimenduarekin zerikusia izan duen autore garrantzitsuena hurrengoa da:</tspan>
<tspan x="1443" y="3796">a) Freud.</tspan>
<tspan x="1443" y="3809">b)Erikson.</tspan>
<tspan class="qb" x="1443" y="3823">c)Bowlby.</tspan>
<tspan x="1443" y="3836">d) Lorenz.</tspan>
<tspan x="1443" y="3849">e) Tinbergen.</tspan>
</text>
</g>
</svg>
